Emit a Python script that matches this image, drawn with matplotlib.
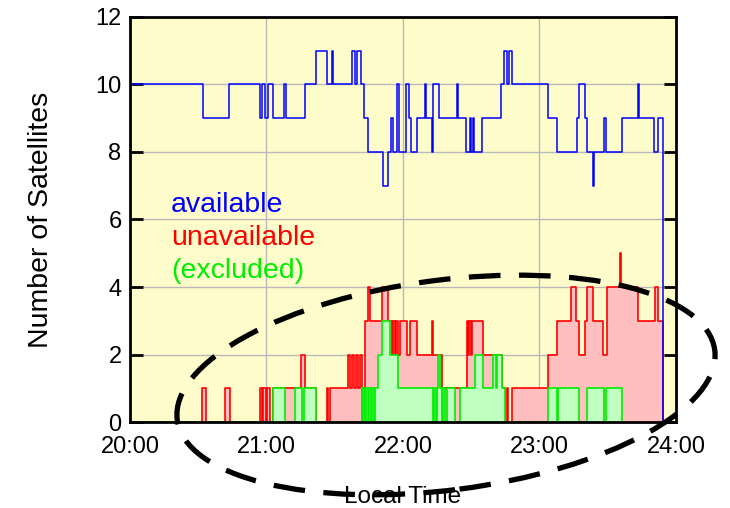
import numpy as np
import matplotlib
matplotlib.use("Agg")
import matplotlib.pyplot as plt
from matplotlib.patches import Ellipse

plt.rcParams['font.family'] = ['Liberation Sans', 'DejaVu Sans']

# --- data (local time in hours, number of satellites, step-post) ---
avail_t = [20.000, 20.533, 20.727, 20.952, 20.967, 20.989, 21.011, 21.045, 21.130, 21.145,
           21.284, 21.360, 21.441, 21.478, 21.490, 21.629, 21.648, 21.665, 21.690, 21.714,
           21.746, 21.851, 21.892, 21.910, 21.924, 21.954, 21.973, 22.022, 22.044, 22.056,
           22.100, 22.161, 22.166, 22.210, 22.222, 22.266, 22.393, 22.405, 22.459, 22.491,
           22.498, 22.515, 22.522, 22.577, 22.718, 22.742, 22.760, 22.779, 22.796, 23.064,
           23.130, 23.273, 23.287, 23.336, 23.351, 23.392, 23.399, 23.473, 23.487, 23.602,
           23.722, 23.729, 23.839, 23.870, 23.907]
avail_n = [10, 9, 10, 9, 10, 9, 10, 9, 10, 9,
           10, 11, 10, 11, 10, 11, 10, 11, 10, 9,
           8, 7, 8, 9, 8, 10, 8, 10, 9, 8,
           9, 10, 9, 8, 10, 9, 10, 9, 8, 9,
           8, 9, 8, 9, 10, 11, 10, 11, 10, 9,
           8, 9, 10, 9, 8, 7, 8, 9, 8, 9,
           10, 9, 8, 9, 0]

unavail_t = [20.000, 20.530, 20.555, 20.696, 20.733, 20.952, 20.969, 20.977, 20.994, 21.004,
             21.026, 21.045, 21.251, 21.282, 21.363, 21.441, 21.454, 21.465, 21.599, 21.612,
             21.626, 21.641, 21.656, 21.670, 21.685, 21.697, 21.722, 21.741, 21.758, 21.848,
             21.888, 21.917, 21.927, 21.941, 21.952, 21.966, 21.978, 22.027, 22.051, 22.100,
             22.210, 22.220, 22.284, 22.467, 22.476, 22.487, 22.498, 22.509, 22.588, 22.723,
             22.747, 22.762, 22.769, 22.796, 23.064, 23.130, 23.229, 23.267, 23.292, 23.333,
             23.350, 23.394, 23.467, 23.492, 23.590, 23.599, 23.724, 23.846, 23.870, 23.907]
unavail_n = [0, 1, 0, 1, 0, 1, 0, 1, 0, 1,
             0, 1, 2, 1, 0, 1, 0, 1, 2, 1,
             2, 1, 2, 1, 2, 1, 3, 4, 3, 4,
             3, 2, 3, 2, 3, 2, 3, 2, 3, 2,
             3, 2, 1, 3, 2, 3, 2, 3, 2, 1,
             0, 1, 0, 1, 2, 3, 4, 3, 2, 3,
             4, 3, 2, 4, 5, 4, 3, 4, 3, 0]

excl_t = [20.000, 21.045, 21.136, 21.209, 21.260, 21.275, 21.363, 21.697, 21.703, 21.711,
          21.722, 21.729, 21.744, 21.751, 21.766, 21.773, 21.788, 21.795, 21.819, 21.850,
          21.905, 21.963, 22.222, 22.231, 22.242, 22.249, 22.259, 22.271, 22.284, 22.293,
          22.308, 22.319, 22.381, 22.418, 22.527, 22.584, 22.662, 22.681, 22.691, 22.723,
          22.747, 23.064, 23.130, 23.137, 23.292, 23.350, 23.473, 23.484, 23.602]
excl_n = [0, 1, 0, 1, 0, 1, 0, 1, 0, 1,
          0, 1, 0, 1, 0, 1, 0, 1, 2, 3,
          2, 1, 0, 1, 0, 1, 2, 1, 0, 1,
          0, 1, 0, 1, 2, 1, 2, 1, 2, 1,
          0, 1, 0, 1, 0, 1, 0, 1, 0]

xticks = [20, 21, 22, 23, 24]
xticklabels = ["20:00", "21:00", "22:00", "23:00", "24:00"]
yticks = [0, 2, 4, 6, 8, 10, 12]

fig = plt.figure(figsize=(7.3, 5.08), dpi=100)
ax = fig.add_axes([0.178, 0.169, 0.748, 0.798])
ax.set_facecolor('#fffccc')

ax.fill_between(unavail_t, unavail_n, step='post', color='#ffbfbf', lw=0, zorder=2)
ax.step(unavail_t, unavail_n, where='post', color='#ff0000', lw=1.2, zorder=3)
ax.fill_between(excl_t, excl_n, step='post', color='#bfffbf', lw=0, zorder=4)
ax.step(excl_t, excl_n, where='post', color='#00ee00', lw=1.2, zorder=5)
ax.step(avail_t, avail_n, where='post', color='#0000ff', lw=1.1, zorder=6)

ax.set_xlim(20, 24)
ax.set_ylim(0, 12)
ax.set_xticks(xticks)
ax.set_xticklabels(xticklabels)
ax.set_yticks(yticks)
ax.grid(True, color='#b8b8b8', lw=1, zorder=1)
ax.set_axisbelow(True)
ax.tick_params(axis='both', direction='in', length=9, width=2, labelsize=17,
               right=True, top=False, pad=6)
ax.tick_params(axis='x', length=0, pad=10)
for s in ax.spines.values():
    s.set_linewidth(2)
    s.set_zorder(10)

ax.set_xlabel("Local Time", fontsize=17.5, labelpad=20)
ax.set_ylabel("Number of Satellites", fontsize=20.5, labelpad=30)

ax.text(20.30, 6.43, "available", color='#0000ff', fontsize=20.5, va='center')
ax.text(20.30, 5.45, "unavailable", color='#ff0000', fontsize=20.5, va='center')
ax.text(20.30, 4.47, "(excluded)", color='#00ee00', fontsize=20.5, va='center')

# dashed ellipse highlighting the low-count region
ell = Ellipse((4.46, 1.23), 5.42, 2.1, angle=7.4, transform=fig.dpi_scale_trans,
              fill=False, ec='black', lw=3.8, ls=(0, (6, 3.5)), zorder=20)
fig.add_artist(ell)

fig.savefig("out.png", dpi=100)
